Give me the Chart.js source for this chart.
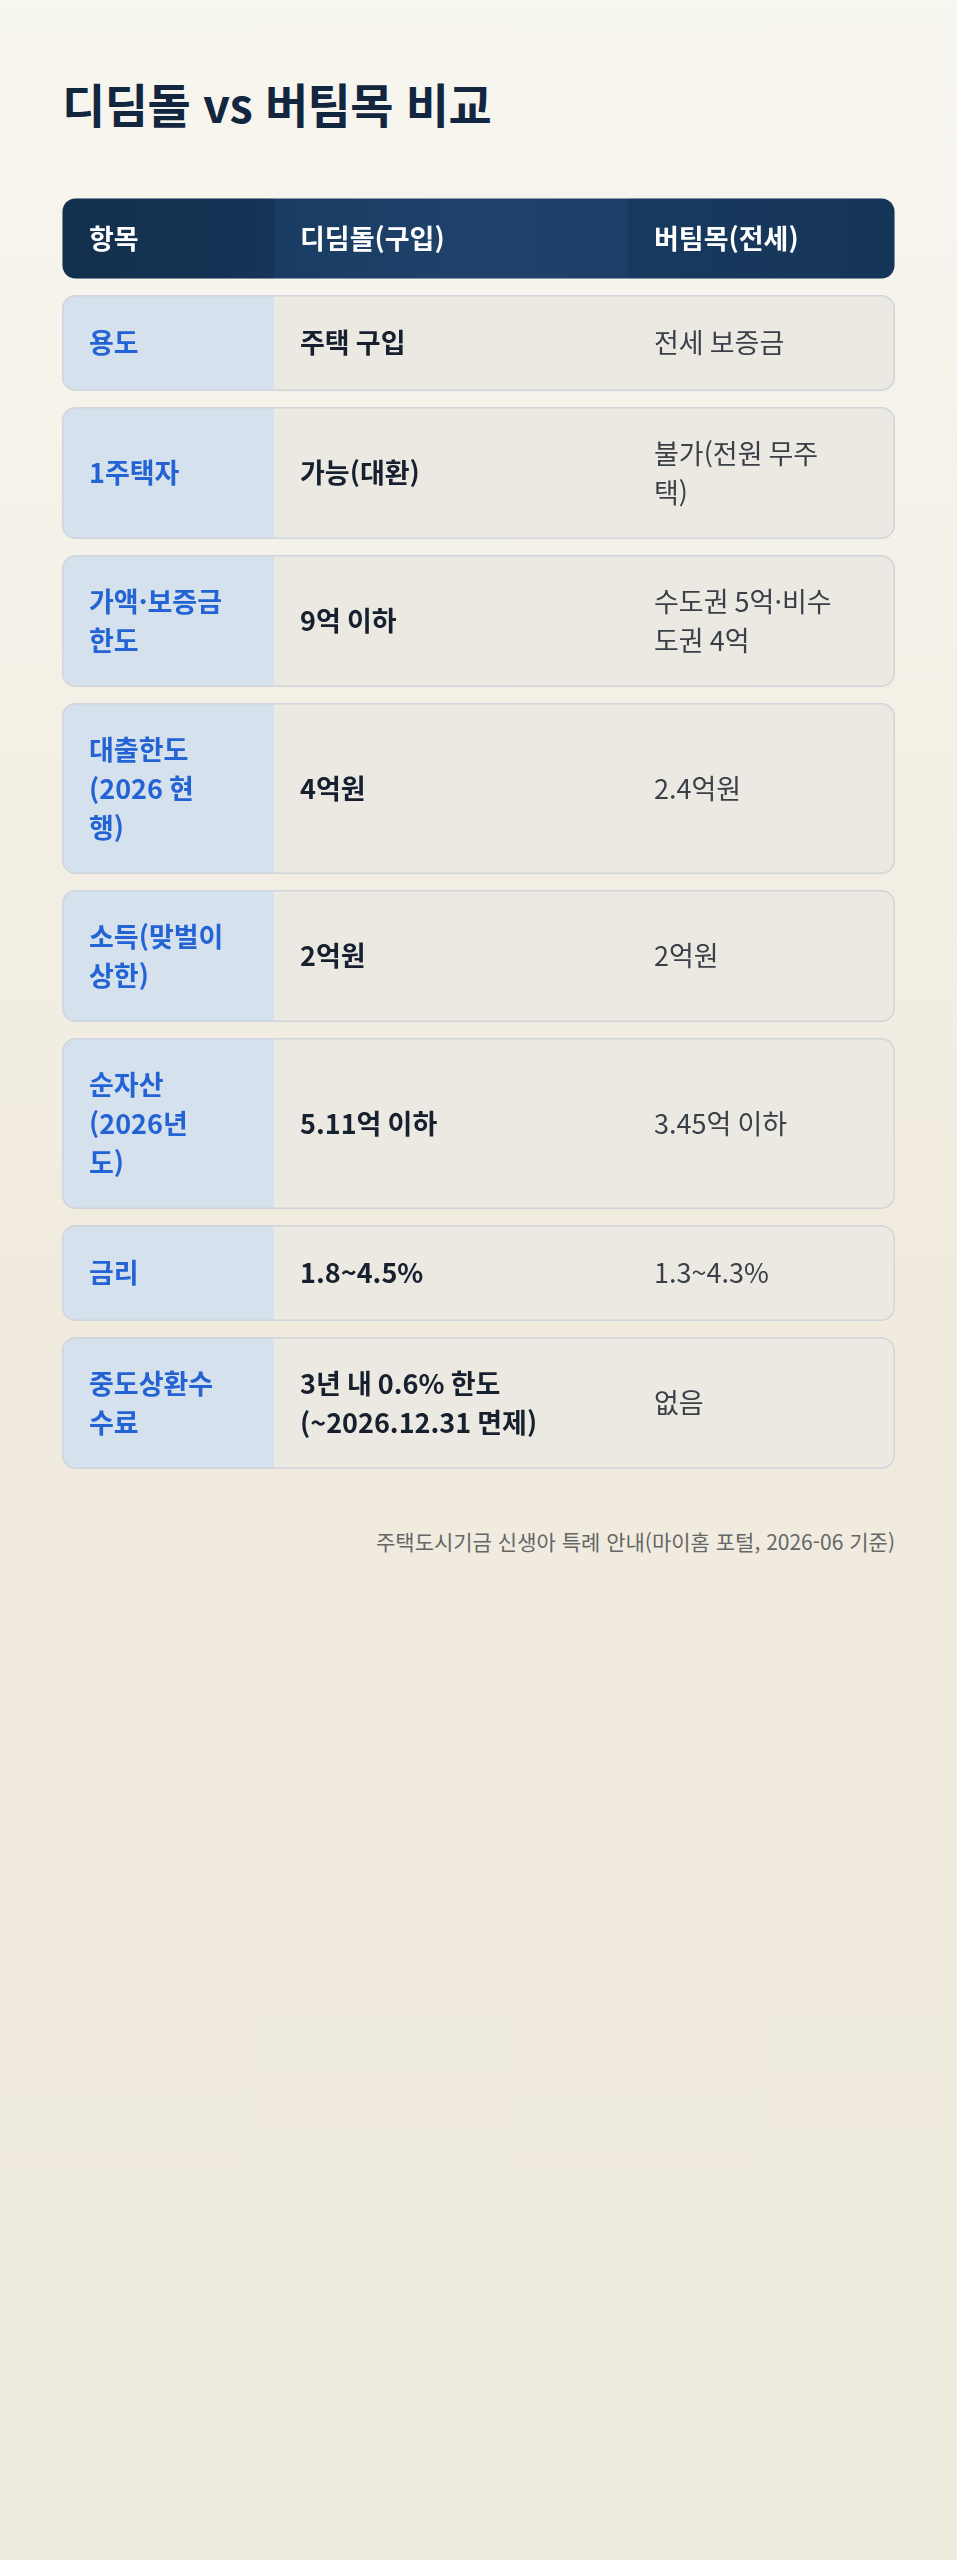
<!DOCTYPE html>
<html lang="ko">
<head>
<meta charset="utf-8">
<script src="https://cdn.jsdelivr.net/npm/chart.js@4/dist/chart.umd.min.js"></script>
<style>
  body { margin:0; width:957px; height:2560px; font-family:"Noto Sans CJK KR","Noto Sans",sans-serif;
    background:linear-gradient(180deg,#f7f6ef 0%,#f1ebdf 50%,#efebde 100%); }
  h1 { position:absolute; left:62px; top:68px; margin:0; font-size:47px; font-weight:700; color:#12263f; letter-spacing:-0.5px; }
  #wrap { position:absolute; left:62px; top:198px; }
  .src { position:absolute; right:62px; top:1526px; font-size:21px; color:#666; }
</style>
</head>
<body>
<h1>디딤돌 vs 버팀목 비교</h1>
<div id="wrap"><canvas id="tbl" width="833" height="1275"></canvas></div>
<div class="src">주택도시기금 신생아 특례 안내(마이홈 포털, 2026-06 기준)</div>
<script>
const headers = ["항목", "디딤돌(구입)", "버팀목(전세)"];
const items = ["용도", "1주택자", "가액·보증금\n한도", "대출한도\n(2026 현\n행)", "소득(맞벌이\n상한)", "순자산\n(2026년\n도)", "금리", "중도상환수\n수료"];
const didimdol = ["주택 구입", "가능(대환)", "9억 이하", "4억원", "2억원", "5.11억 이하", "1.8~4.5%", "3년 내 0.6% 한도\n(~2026.12.31 면제)"];
const beotimmok = ["전세 보증금", "불가(전원 무주\n택)", "수도권 5억·비수\n도권 4억", "2.4억원", "2억원", "3.45억 이하", "1.3~4.3%", "없음"];

const W = 833, H = 1275;
const colEdges = [0, 212, 566, 833];
const lineH = 39, gap = 16, headH = 81;

function linesOf(i) {
  return Math.max(items[i].split("\n").length, didimdol[i].split("\n").length, beotimmok[i].split("\n").length);
}
// row bands in canvas units
const bands = [[0, headH]];
let yCur = headH + gap;
items.forEach((_, i) => {
  const h = linesOf(i) * lineH + (linesOf(i) === 1 ? 57 : 54);
  bands.push([yCur, yCur + h]);
  yCur += h + gap;
});

function rr(ctx, x, y, w, h, r) {
  ctx.beginPath();
  ctx.roundRect(x, y, w, h, r);
}

const tablePlugin = {
  id: "tablePlugin",
  afterDraw(chart) {
    const ctx = chart.ctx, xs = chart.scales.x, ys = chart.scales.y;
    const px = v => xs.getPixelForValue(v), py = v => ys.getPixelForValue(v);
    bands.forEach((b, r) => {
      const x0 = px(0), x1 = px(W), y0 = py(b[0]), y1 = py(b[1]);
      const c1 = px(colEdges[1]), c2 = px(colEdges[2]);
      ctx.save();
      rr(ctx, x0 + 0.5, y0 + 0.5, x1 - x0 - 1, y1 - y0 - 1, 13);
      ctx.clip();
      if (r === 0) {
        const g = ctx.createLinearGradient(x0, 0, x1, 0);
        g.addColorStop(0, "#153659"); g.addColorStop(0.5, "#1e426b"); g.addColorStop(1, "#173a60");
        ctx.fillStyle = g; ctx.fillRect(x0, y0, x1 - x0, y1 - y0);
        ctx.fillStyle = "rgba(0,0,0,0.12)"; ctx.fillRect(x0, y0, c1 - x0, y1 - y0);
        ctx.fillStyle = "rgba(0,0,0,0.08)"; ctx.fillRect(c2, y0, x1 - c2, y1 - y0);
      } else {
        ctx.fillStyle = "#ebe9e1"; ctx.fillRect(x0, y0, x1 - x0, y1 - y0);
        ctx.fillStyle = "#d5e1ec"; ctx.fillRect(x0, y0, c1 - x0, y1 - y0);
      }
      ctx.restore();
      if (r > 0) {
        ctx.strokeStyle = "#cfd5da"; ctx.lineWidth = 1.5;
        rr(ctx, x0 + 0.75, y0 + 0.75, x1 - x0 - 1.5, y1 - y0 - 1.5, 13); ctx.stroke();
      }
      const texts = r === 0 ? headers : [items[r - 1], didimdol[r - 1], beotimmok[r - 1]];
      texts.forEach((t, c) => {
        const ls = t.split("\n");
        if (r === 0) { ctx.font = "700 27px 'Noto Sans CJK KR'"; ctx.fillStyle = "#ffffff"; }
        else if (c === 0) { ctx.font = "700 27px 'Noto Sans CJK KR'"; ctx.fillStyle = "#2463d4"; }
        else if (c === 1) { ctx.font = "700 27px 'Noto Sans CJK KR'"; ctx.fillStyle = "#16202e"; }
        else { ctx.font = "400 27px 'Noto Sans CJK KR'"; ctx.fillStyle = "#3b4048"; }
        ctx.textBaseline = "middle";
        const tx = px(colEdges[c]) + (c === 0 ? 27 : 26);
        const mid = (y0 + y1) / 2;
        ls.forEach((l, k) => ctx.fillText(l, tx, mid + (k - (ls.length - 1) / 2) * lineH));
      });
    });
  }
};

new Chart(document.querySelector("#tbl"), {
  type: "scatter",
  data: { datasets: [{ data: [], pointRadius: 0 }] },
  options: {
    responsive: false, animation: false,
    devicePixelRatio: 1,
    layout: { padding: 0 },
    plugins: { legend: { display: false }, tooltip: { enabled: false } },
    scales: {
      x: { type: "linear", min: 0, max: W, display: false },
      y: { type: "linear", min: 0, max: H, reverse: true, display: false }
    }
  },
  plugins: [tablePlugin]
});
</script>
</body>
</html>
